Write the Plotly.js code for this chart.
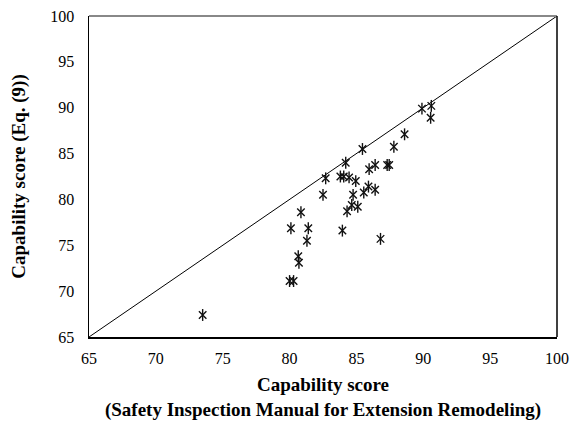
<!DOCTYPE html>
<html>
<head>
<meta charset="utf-8">
<script src="https://cdn.plot.ly/plotly-3.0.1.min.js"></script>
<style>html,body{margin:0;padding:0;background:#fff;}#chart{width:577px;height:422px;}</style>
</head>
<body>
<div id="chart"></div>
<script>
// Capability score (Safety Inspection Manual for Extension Remodeling)
const manualScore = [73.5, 80.0, 80.3, 80.7, 80.65, 81.3, 80.1, 81.4, 83.95, 86.8,
  80.85, 84.3, 84.65, 85.1, 82.5, 84.75, 85.55, 85.9, 86.4, 82.7,
  83.8, 84.05, 84.45, 84.95, 84.2, 85.95, 86.4, 87.3, 87.45, 85.45,
  87.8, 88.6, 89.9, 90.6, 90.55];
// Capability score (Eq. (9))
const eqScore = [67.4, 71.1, 71.1, 73.1, 73.8, 75.5, 76.85, 76.85, 76.6, 75.7,
  78.6, 78.7, 79.4, 79.2, 80.5, 80.5, 80.75, 81.4, 81.05, 82.3,
  82.5, 82.5, 82.4, 82.0, 84.0, 83.3, 83.75, 83.75, 83.75, 85.5,
  85.75, 87.1, 89.9, 90.2, 88.9];
const diagonal = [65, 100];
const tickVals = [65, 70, 75, 80, 85, 90, 95, 100];

const font = 'Liberation Serif';

const traces = [
  {x: diagonal, y: diagonal, mode: 'lines', line: {color: '#000', width: 1}, hoverinfo: 'skip'},
  {x: manualScore, y: eqScore, mode: 'markers',
   marker: {symbol: 'x-thin-open', size: 7.5, color: '#111', line: {color: '#111', width: 1.4}}},
  {x: manualScore, y: eqScore, mode: 'markers',
   marker: {symbol: 'line-ns-open', size: 8.5, color: '#111', line: {color: '#111', width: 1.4}}}
];

const layout = {
  width: 577, height: 422,
  margin: {l: 89, r: 20, t: 16, b: 85},
  showlegend: false,
  paper_bgcolor: '#fff', plot_bgcolor: '#fff',
  font: {family: font, color: '#000', size: 16},
  xaxis: {
    range: [65, 100], tickvals: tickVals, showgrid: false, zeroline: false,
    showline: true, linecolor: '#000', linewidth: 1.5,
    ticks: 'outside', ticklen: 6, tickcolor: 'rgba(0,0,0,0)',
    tickfont: {family: font, size: 16, color: '#000'},
    title: {text: '<b>Capability score</b><br><b>(Safety Inspection Manual for Extension Remodeling)</b>',
      font: {family: font, size: 19, color: '#000'}, standoff: 12}
  },
  yaxis: {
    range: [65, 100], tickvals: tickVals, showgrid: false, zeroline: false,
    showline: true, linecolor: '#000', linewidth: 1.5,
    ticks: 'outside', ticklen: 10, tickcolor: 'rgba(0,0,0,0)',
    tickfont: {family: font, size: 16, color: '#000'},
    title: {text: '<b>Capability score (Eq. (9))</b>', font: {family: font, size: 19, color: '#000'}, standoff: 19}
  },
  shapes: [
    {type: 'line', xref: 'paper', yref: 'paper', x0: 0, x1: 1, y0: 1, y1: 1,
     line: {color: '#888', width: 2}},
    {type: 'line', xref: 'paper', yref: 'paper', x0: 1, x1: 1, y0: 0, y1: 1,
     line: {color: '#000', width: 1.5}}
  ]
};

Plotly.newPlot('chart', traces, layout, {displayModeBar: false, staticPlot: true});
</script>
</body>
</html>
